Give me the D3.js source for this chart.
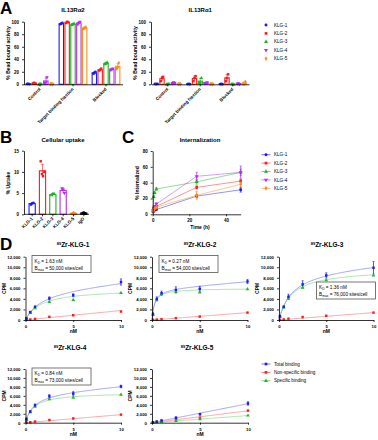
<!DOCTYPE html>
<html><head><meta charset="utf-8">
<script src="https://cdn.jsdelivr.net/npm/d3@7"></script>
<style>
body{margin:0;background:#fff}
svg{display:block;font-family:"Liberation Sans",Arial,sans-serif}
</style></head><body>
<svg id="fig" width="378" height="440"></svg>
<script>
// ---------------- DATA ----------------
const klgNames = ["KLG-1","KLG-2","KLG-3","KLG-4","KLG-5"];
const klgColors = ["#1a1aff","#ff1a1a","#1db31d","#b22ef0","#ff8c1a"];
const aCategories = ["Control","Target binding fraction","Blocked"];
// replicate values [category][construct] = [r1,r2,r3]
const aIL13Ra2 = [
  [[0.5,0.8,0.3],[1.5,2.5,1.2],[0,0.5,0.2],[2,3,11],[0.5,0.8,0.3]],
  [[96,97,98],[98,100,99],[95,96,97],[96,98,100],[89,90,91]],
  [[17,18,20],[22,23,25],[32,33,35],[23,24,25],[25,27,34]]
];
const aIL13Ra1 = [
  [[0.5,0.3,0.8],[5,10,12],[0,0.3,0.5],[2,3,2.5],[0.5,0.8,0.3]],
  [[0.3,0.5,0.2],[5,10,13],[2,3,10],[2,2.5,3],[0.5,0.8,0.3]],
  [[0.3,0.5,0.2],[5,10,16],[0.2,0.3,0],[1,1.5,0.5],[1,1,4]]
];
const bLabels = ["KLG-1","KLG-2","KLG-3","KLG-4","KLG-5","IgG"];
const bColors = ["#1a1aff","#ff1a1a","#1db31d","#b22ef0","#ff8c1a","#000000"];
const bUptake = [[2.3,2.6,2.7],[12.5,9.5,9.0,10.0],[4.5,4.8,4.8],[6.1,5.8,5.0],[0.2,0.3,0.2],[0.3,0.4,0.2]];
const cTimes = [0.25,0.5,1,2,24,48];
const cInternal = [
  [3,4,5,6,23,31],
  [4,6,8,10,34,42],
  [5,22,27,32,41,53],
  [5,8,10,13,48,53],
  [4,6,7,9,24,38]
];
const cErr = [
  [0.5,0.5,0.5,1,2,3],
  [0.5,1,1,1,2,2],
  [1,1,1,1.5,3,4],
  [1,1,1,1.5,5,8],
  [0.5,1,1,1,5,3]
];
const dTitles = ["KLG-1","KLG-2","KLG-3","KLG-4","KLG-5"];
const dConc = [0.1,0.5,1,2.5,5,10];
const dTotal = [
  [300,1500,2500,4100,4700,7200],
  [1100,4000,5100,5700,5900,7300],
  [700,2500,4400,6750,8450,9900],
  [800,2500,3900,5900,6500,8100],
  [100,250,500,1100,1900,4300]
];
const dTotalErr = [
  [100,100,150,300,300,600],
  [300,400,400,600,500,400],
  [200,200,500,700,500,1200],
  [300,200,300,400,500,300],
  [50,50,100,200,200,400]
];
const dNonspec = [
  [30,100,200,600,900,1600],
  [50,80,150,350,650,1400],
  [50,100,250,550,800,1400],
  [50,100,250,600,950,1800],
  [50,150,300,700,1100,2700]
];
const dSpecific = [
  [250,1350,2250,3450,3800,5150],
  [1000,3850,4900,5300,5250,5850],
  [650,2400,4100,6150,7550,8450],
  [700,2350,3600,5250,5600,6250],
  [50,100,200,400,800,1600]
];
// fit parameters (one-site binding + linear nonspecific)
const dKd = [1.63,0.27,1.36,0.84,null];
const dKdText = ["1.63","0.27","1.36","0.84",null];
const dBmaxText = ["50,000","54,000","76,000","73,000",null];
const dSpecMaxCpm = [5930,6010,9720,6775,null];
const dSpecSlope = [null,null,null,null,160];
const dNsSlope = [180,140,140,180,265];
const dLegend = ["Total binding","Non-specific binding","Specific binding"];

// ---------------- HELPERS ----------------
const svg = d3.select("#fig");
const FONT = "Liberation Sans, Arial, sans-serif";
const symTypes = [d3.symbolCircle,d3.symbolSquare,d3.symbolTriangle,d3.symbolTriangle,d3.symbolDiamond];
const symRot = [0,0,0,180,0];
function marker(g,i,x,y,color,size){
  g.append("path").attr("d",d3.symbol(symTypes[i],size||7)())
   .attr("transform",`translate(${x},${y}) rotate(${symRot[i]})`).attr("fill",color);
}
function styleAxis(g,fs){
  g.attr("font-size",fs||4.5).attr("font-family",FONT).attr("font-weight","bold");
  g.selectAll("path.domain").attr("stroke","#000").attr("stroke-width",0.8);
  g.selectAll(".tick line").attr("stroke","#000").attr("stroke-width",0.8);
  g.selectAll(".tick text").attr("fill","#000");
}
function text(x,y,s,opt){
  opt=opt||{};
  const t=svg.append("text").attr("x",x).attr("y",y).text(s)
    .attr("font-family",FONT).attr("font-size",opt.fs||5)
    .attr("font-weight",opt.bold===false?"normal":"bold")
    .attr("text-anchor",opt.anchor||"middle");
  if(opt.rot) t.attr("transform",`rotate(${opt.rot},${x},${y})`);
  return t;
}
function errBar(g,x,y1,y2,color,cap,w){
  g.append("line").attr("x1",x).attr("x2",x).attr("y1",y1).attr("y2",y2).attr("stroke",color).attr("stroke-width",w||0.6);
  g.append("line").attr("x1",x-cap).attr("x2",x+cap).attr("y1",y2).attr("y2",y2).attr("stroke",color).attr("stroke-width",w||0.6);
}

// ---------------- PANEL LETTERS ----------------
[["A",0,14],["B",0,143],["C",122,143],["D",0,250]].forEach(([s,x,y])=>text(x,y,s,{fs:17,anchor:"start"}));

// ---------------- PANEL A ----------------
function drawA(reps,range,yAxisX,title,ylabX){
  const y = d3.scaleLinear([0,100],[84.3,21.7]);
  const xg = d3.scaleBand(aCategories,range);
  const xi = d3.scaleBand(d3.range(5),[0,xg.bandwidth()]).paddingInner(0.25).paddingOuter(0.45);
  const g = svg.append("g");
  aCategories.forEach((c,ci)=>{
    reps[ci].forEach((vals,k)=>{
      const col = klgColors[k];
      const m = d3.mean(vals), sd = d3.deviation(vals);
      const bx = xg(c)+xi(k), bw = xi.bandwidth(), cx = bx+bw/2;
      g.append("rect").attr("x",bx).attr("y",y(m)).attr("width",bw).attr("height",Math.max(0,y(0)-y(m)))
        .attr("fill","#fff").attr("stroke",col).attr("stroke-width",1.1);
      errBar(g,cx,y(Math.max(0,m-sd)),y(m+sd),col,1.2);
      vals.forEach((v,r)=>marker(g,k,cx+(r-1)*1.1,y(v),col,6));
    });
  });
  const ax = svg.append("g").attr("transform",`translate(${yAxisX},0)`)
    .call(d3.axisLeft(y).tickValues([0,20,40,60,80,100]).tickSize(2).tickSizeOuter(0));
  styleAxis(ax);
  const bx = svg.append("g").attr("transform",`translate(0,${y(0)})`)
    .call(d3.axisBottom(xg).tickSize(2).tickSizeOuter(0).tickFormat(""));
  styleAxis(bx);
  aCategories.forEach(c=>{
    const cx = xg(c)+xg.bandwidth()/2;
    text(cx+1,89.5,c,{fs:4.5,anchor:"end",rot:-45});
  });
  text((range[0]+range[1])/2,11.5,title,{fs:6});
  text(ylabX,53,"% Bead bound activity",{fs:5,rot:-90});
}
drawA(aIL13Ra2,[23.5,122.5],24,"IL13Rα2",10);
drawA(aIL13Ra1,[151.5,249],151,"IL13Rα1",137);
// legend A
klgNames.forEach((n,i)=>{
  const yy = 25+i*8.4;
  marker(svg,i,266,yy,klgColors[i],7);
  text(274,yy+1.6,n,{fs:4.6,anchor:"start",bold:false});
});

// ---------------- PANEL B ----------------
(function(){
  const y = d3.scaleLinear([0,15],[214.3,150.7]);
  const x = d3.scaleBand(bLabels,[27,89]).paddingInner(0.4).paddingOuter(0.2);
  const g = svg.append("g");
  bLabels.forEach((l,i)=>{
    const vals=bUptake[i], col=bColors[i], m=d3.mean(vals), sd=d3.deviation(vals);
    const bx=x(l), bw=x.bandwidth(), cx=bx+bw/2;
    g.append("rect").attr("x",bx).attr("y",y(m)).attr("width",bw).attr("height",Math.max(0,y(0)-y(m)))
      .attr("fill","#fff").attr("stroke",col).attr("stroke-width",1.1);
    errBar(g,cx,y(Math.max(0,m-sd)),y(m+sd),col,1.4);
    vals.forEach((v,r)=>marker(g,Math.min(i,4)===i?i:0,cx+(r-(vals.length-1)/2)*1.2,y(v),col,6));
  });
  const ax = svg.append("g").attr("transform","translate(24,0)")
    .call(d3.axisLeft(y).tickValues([0,5,10,15]).tickSize(2).tickSizeOuter(0));
  styleAxis(ax);
  svg.append("line").attr("x1",24).attr("x2",89).attr("y1",y(0)).attr("y2",y(0)).attr("stroke","#000").attr("stroke-width",0.8);
  bLabels.forEach(l=>{
    const cx=x(l)+x.bandwidth()/2;
    svg.append("line").attr("x1",cx).attr("x2",cx).attr("y1",y(0)).attr("y2",y(0)+2).attr("stroke","#000").attr("stroke-width",0.8);
    text(cx+1,219,l,{fs:4.5,anchor:"end",rot:-45});
  });
  text(63,141.5,"Cellular uptake",{fs:6});
  text(10,183,"% Uptake",{fs:5,rot:-90});
})();

// ---------------- PANEL C ----------------
(function(){
  const x = d3.scaleLinear([0,48],[152.7,240.7]);
  const y = d3.scaleLinear([0,80],[214.3,151]);
  const g = svg.append("g");
  cInternal.forEach((vals,k)=>{
    const col=klgColors[k];
    g.append("path").datum(vals.map((v,j)=>[cTimes[j],v]))
      .attr("d",d3.line().x(d=>x(d[0])).y(d=>y(d[1])))
      .attr("fill","none").attr("stroke",col).attr("stroke-width",0.6).attr("stroke-opacity",0.8);
    vals.forEach((v,j)=>{
      errBar(g,x(cTimes[j]),y(v-cErr[k][j]),y(v+cErr[k][j]),col,1.2,0.5);
      errBar(g,x(cTimes[j]),y(v+cErr[k][j]),y(v-cErr[k][j]),col,1.2,0.5);
      marker(g,k,x(cTimes[j]),y(v),col,7);
    });
  });
  const ax = svg.append("g").attr("transform","translate(152.7,0)")
    .call(d3.axisLeft(y).tickValues([0,20,40,60,80]).tickSize(2).tickSizeOuter(0));
  styleAxis(ax);
  const bx = svg.append("g").attr("transform",`translate(0,${y(0)})`)
    .call(d3.axisBottom(x).tickValues([0,20,40]).tickSize(2).tickSizeOuter(0));
  styleAxis(bx);
  text(200,141.5,"Internalization",{fs:6});
  text(200,229,"Time (h)",{fs:5});
  text(139,183,"% Internalized",{fs:5,rot:-90});
  klgNames.forEach((n,i)=>{
    const yy=154.7+i*8.4;
    svg.append("line").attr("x1",261.5).attr("x2",270.5).attr("y1",yy).attr("y2",yy).attr("stroke",klgColors[i]).attr("stroke-width",0.6);
    marker(svg,i,266,yy,klgColors[i],7);
    text(274,yy+1.6,n,{fs:4.6,anchor:"start",bold:false});
  });
})();

// ---------------- PANEL D ----------------
const dBlue="#1a1aff", dRed="#ff1a1a", dGreen="#22b822";
const dBlueL="#8c8cff", dRedL="#ff8c8c", dGreenL="#8fe08f";
const dLayout = [
  {xr:[25.5,121],yr:[320,256.7],tx:73,ty:247,box:[32,255.5]},
  {xr:[152,247.5],yr:[320,256.7],tx:200,ty:247,box:[159,255.5]},
  {xr:[279,373.5],yr:[320,256.7],tx:327,ty:247,box:[316.5,282]},
  {xr:[25.5,121],yr:[422.7,369],tx:70,ty:350,box:[32,368]},
  {xr:[152,248],yr:[422.7,369],tx:197,ty:350,box:null}
];
dTitles.forEach((t,i)=>{
  const L=dLayout[i];
  const x=d3.scaleLinear([0,10],L.xr), y=d3.scaleLinear([0,12000],L.yr);
  const g=svg.append("g");
  const spec = c => dKd[i]!==null ? dSpecMaxCpm[i]*c/(dKd[i]+c) : dSpecSlope[i]*c;
  const ns = c => dNsSlope[i]*c;
  const xs = d3.range(0,10.001,0.1);
  const line = f => d3.line().x(c=>x(c)).y(c=>y(f(c)))(xs);
  g.append("path").attr("d",line(ns)).attr("fill","none").attr("stroke",dRedL).attr("stroke-width",0.8);
  g.append("path").attr("d",line(spec)).attr("fill","none").attr("stroke",dGreenL).attr("stroke-width",0.8);
  g.append("path").attr("d",line(c=>spec(c)+ns(c))).attr("fill","none").attr("stroke",dBlueL).attr("stroke-width",0.8);
  dConc.forEach((c,j)=>{
    errBar(g,x(c),y(dTotal[i][j]-dTotalErr[i][j]),y(dTotal[i][j]+dTotalErr[i][j]),dBlue,1.1,0.5);
    errBar(g,x(c),y(dTotal[i][j]+dTotalErr[i][j]),y(dTotal[i][j]-dTotalErr[i][j]),dBlue,1.1,0.5);
    marker(g,1,x(c),y(dNonspec[i][j]),dRed,6);
    marker(g,2,x(c),y(dSpecific[i][j]),dGreen,6);
    marker(g,1,x(c),y(dTotal[i][j]),dBlue,6);
  });
  const ax=svg.append("g").attr("transform",`translate(${L.xr[0]},0)`)
    .call(d3.axisLeft(y).tickValues(d3.range(0,12001,2000)).tickFormat(d3.format(",")).tickSize(2).tickSizeOuter(0));
  styleAxis(ax,4.3);
  const bx=svg.append("g").attr("transform",`translate(0,${L.yr[0]})`)
    .call(d3.axisBottom(x).tickValues([0,5,10]).tickSize(2).tickSizeOuter(0));
  styleAxis(bx,4.3);
  text((L.xr[0]+L.xr[1])/2,L.yr[0]+13,"nM",{fs:5});
  text(L.xr[0]-19.5,(L.yr[0]+L.yr[1])/2,"CPM",{fs:5,rot:-90});
  const tt=svg.append("text").attr("x",L.tx).attr("y",L.ty).attr("text-anchor","middle")
    .attr("font-family",FONT).attr("font-weight","bold").attr("font-size",6.5);
  tt.append("tspan").attr("font-size",4).attr("dy",-2.2).text("89");
  tt.append("tspan").attr("dy",2.2).text("Zr-"+t);
  if(L.box){
    const [bx0,by0]=L.box;
    svg.append("rect").attr("x",bx0).attr("y",by0).attr("width",59).attr("height",17)
      .attr("fill","#fff").attr("stroke","#555").attr("stroke-width",0.8);
    const t1=svg.append("text").attr("x",bx0+2.5).attr("y",by0+7).attr("font-family",FONT).attr("font-size",4.7);
    t1.append("tspan").text("K");
    t1.append("tspan").attr("font-size",3.3).attr("dy",1.2).text("D");
    t1.append("tspan").attr("dy",-1.2).text(" = "+dKdText[i]+" nM");
    const t2=svg.append("text").attr("x",bx0+2.5).attr("y",by0+14).attr("font-family",FONT).attr("font-size",4.7);
    t2.append("tspan").text("B");
    t2.append("tspan").attr("font-size",3.3).attr("dy",1.2).text("max");
    t2.append("tspan").attr("dy",-1.2).text(" = "+dBmaxText[i]+" sites/cell");
  }
});
// legend D
[[1,dBlue],[1,dRed],[2,dGreen]].forEach(([s,col],i)=>{
  const yy=364+i*8.4;
  svg.append("line").attr("x1",261.5).attr("x2",270.5).attr("y1",yy).attr("y2",yy).attr("stroke",col).attr("stroke-width",0.6);
  marker(svg,s,266,yy,col,7);
  text(274,yy+1.6,dLegend[i],{fs:4.6,anchor:"start",bold:false});
});
</script>
</body></html>
